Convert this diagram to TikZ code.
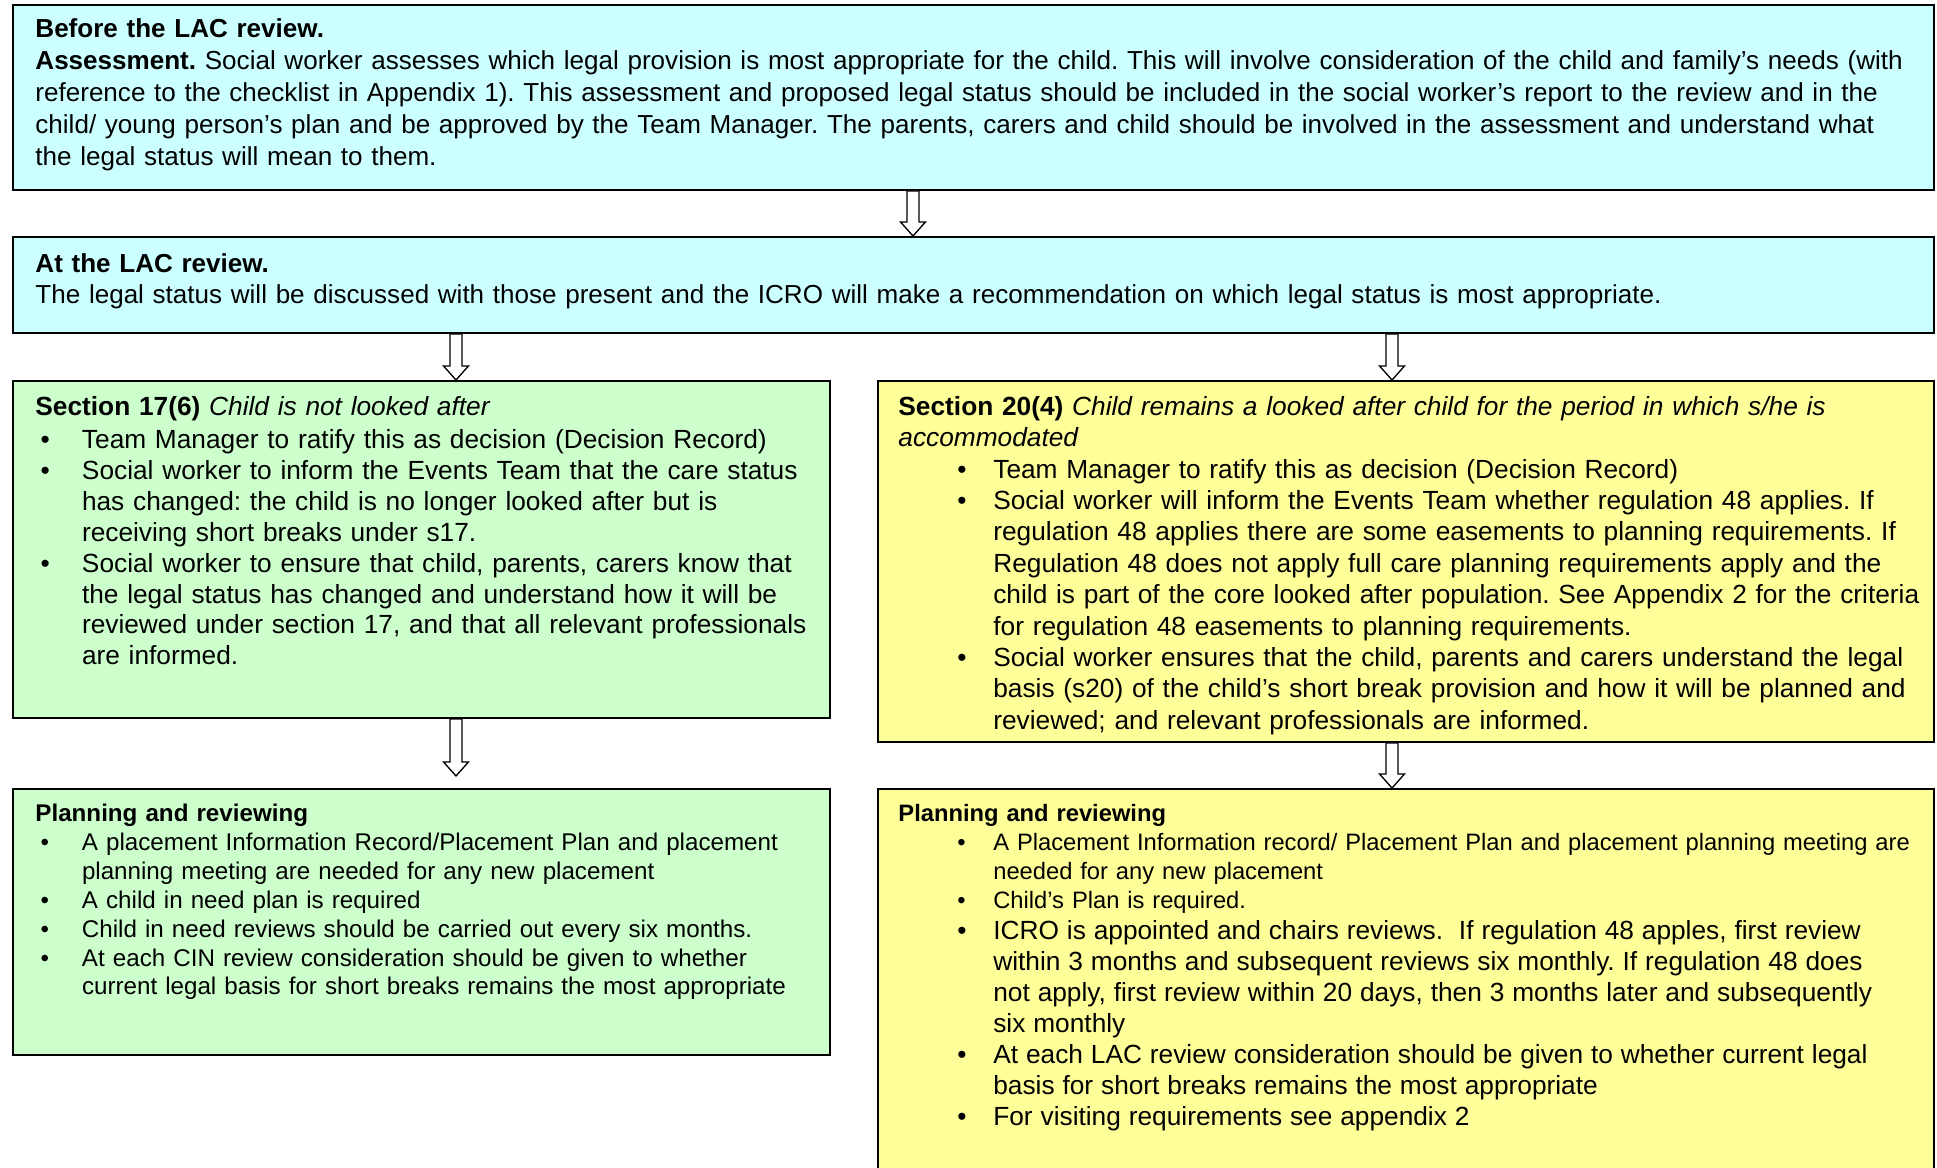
\documentclass[tikz,border=0pt]{standalone}
\usepackage{fontspec}
\setmainfont{Liberation Sans}
\usetikzlibrary{calc}

\definecolor{cyanbox}{HTML}{CCFFFF}
\definecolor{greenbox}{HTML}{CCFFCC}
\definecolor{yellowbox}{HTML}{FFFF99}

\frenchspacing
\newcommand{\bul}[3]{\par\noindent\hangindent=#2\hangafter=1\makebox[#2][l]{\hspace{#1}\textbullet}#3\par}
\newcommand{\gbul}[1]{\bul{2.3pt}{21pt}{#1}}
\newcommand{\ybul}[1]{\bul{26.6pt}{42.8pt}{#1}}

\tikzset{
  box/.style={draw, line width=0.9pt, inner sep=0pt, anchor=north west},
  txt/.style={anchor=north west, inner sep=0pt, align=left},
  blockarrow/.style={draw, fill=white, line width=0.6pt, line join=miter,
    to path={let \p1=(\tikztostart), \p2=(\tikztotarget) in
      (\x1-2.7pt,\y1) -- (\x1-2.7pt,\y2+6.3pt) -- (\x1-5.6pt,\y2+6.3pt) -- (\x1,\y2)
      -- (\x1+5.6pt,\y2+6.3pt) -- (\x1+2.7pt,\y2+6.3pt) -- (\x1+2.7pt,\y1) -- cycle}}
}

\begin{document}
\begin{tikzpicture}[x=0.451pt, y=-0.451pt]
\useasboundingbox (0,0) rectangle (1937,1167);

\node[box, fill=cyanbox, minimum width=866.4pt, minimum height=83.4pt] (before) at (12,4) {};
\node[box, fill=cyanbox, minimum width=866.4pt, minimum height=43.3pt] (review) at (12,236) {};
\node[box, fill=greenbox, minimum width=368.5pt, minimum height=152pt] (sec17) at (12,380) {};
\node[box, fill=yellowbox, minimum width=476.3pt, minimum height=162.8pt] (sec20) at (877,380) {};
\node[box, fill=greenbox, minimum width=368.5pt, minimum height=120pt] (plan17) at (12,788) {};
\node[box, fill=yellowbox, minimum width=476.3pt, minimum height=176.8pt] (plan20) at (877,788) {};

\node[txt, text width=900pt, font=\fontsize{11.75}{14.5}\selectfont] (beforetxt) at (35,18) {%
\textbf{Before the LAC review.}\\
\textbf{Assessment.} Social worker assesses which legal provision is most appropriate for the child. This will involve consideration of the child and family’s needs (with\\
reference to the checklist in Appendix 1). This assessment and proposed legal status should be included in the social worker’s report to the review and in the\\
child/ young person’s plan and be approved by the Team Manager. The parents, carers and child should be involved in the assessment and understand what\\
the legal status will mean to them.};

\node[txt, text width=900pt, font=\fontsize{11.75}{14}\selectfont] (reviewtxt) at (35,253) {%
\textbf{At the LAC review.}\\
The legal status will be discussed with those present and the ICRO will make a recommendation on which legal status is most appropriate.};

\node[txt, text width=400pt, font=\fontsize{11.85}{13.9}\selectfont] (sec17txt) at (35,396) {%
\textbf{Section 17(6)} \textit{Child is not looked after}\par\vspace{1.2pt}
\gbul{Team Manager to ratify this as decision (Decision Record)}
\gbul{Social worker to inform the Events Team that the care status\newline has changed: the child is no longer looked after but is\newline receiving short breaks under s17.}
\gbul{Social worker to ensure that child, parents, carers know that\newline the legal status has changed and understand how it will be\newline reviewed under section 17, and that all relevant professionals\newline are informed.}};

\node[txt, text width=510pt, font=\fontsize{11.85}{14.15}\selectfont] (sec20txt) at (898,396) {%
\textbf{Section 20(4)} \textit{Child remains a looked after child for the period in which s/he is\newline accommodated}
\ybul{Team Manager to ratify this as decision (Decision Record)}
\ybul{Social worker will inform the Events Team whether regulation 48 applies. If\newline regulation 48 applies there are some easements to planning requirements. If\newline Regulation 48 does not apply full care planning requirements apply and the\newline child is part of the core looked after population. See Appendix 2 for the criteria\newline for regulation 48 easements to planning requirements.}
\ybul{Social worker ensures that the child, parents and carers understand the legal\newline basis (s20) of the child’s short break provision and how it will be planned and\newline reviewed; and relevant professionals are informed.}};

\node[txt, text width=400pt, font=\fontsize{10.9}{13}\selectfont] (plan17txt) at (35,804) {%
\textbf{Planning and reviewing}
\gbul{A placement Information Record/Placement Plan and placement\newline planning meeting are needed for any new placement}
\gbul{A child in need plan is required}
\gbul{Child in need reviews should be carried out every six months.}
\gbul{At each CIN review consideration should be given to whether\newline current legal basis for short breaks remains the most appropriate}};

\node[txt, text width=510pt, font=\fontsize{10.7}{13}\selectfont] (plan20txt) at (898,804) {%
\textbf{Planning and reviewing}
\ybul{A Placement Information record/ Placement Plan and placement planning meeting are\newline needed for any new placement}
\ybul{Child’s Plan is required.}
\fontsize{11.85}{14}\selectfont
\ybul{ICRO is appointed and chairs reviews.~ If regulation 48 apples, first review\newline within 3 months and subsequent reviews six monthly. If regulation 48 does\newline not apply, first review within 20 days, then 3 months later and subsequently\newline six monthly}
\ybul{At each LAC review consideration should be given to whether current legal\newline basis for short breaks remains the most appropriate}
\ybul{For visiting requirements see appendix 2}};

\coordinate (ax1) at (913,0);
\coordinate (ax2) at (456,0);
\coordinate (ax3) at (1392,0);
\coordinate (gap17) at (456,776);

\draw[blockarrow] (before.south -| ax1) to (review.north -| ax1);
\draw[blockarrow] (review.south -| ax2) to (sec17.north -| ax2);
\draw[blockarrow] (review.south -| ax3) to (sec20.north -| ax3);
\draw[blockarrow] (sec17.south -| gap17) to (gap17);
\draw[blockarrow] (sec20.south -| ax3) to (plan20.north -| ax3);
\end{tikzpicture}
\end{document}
